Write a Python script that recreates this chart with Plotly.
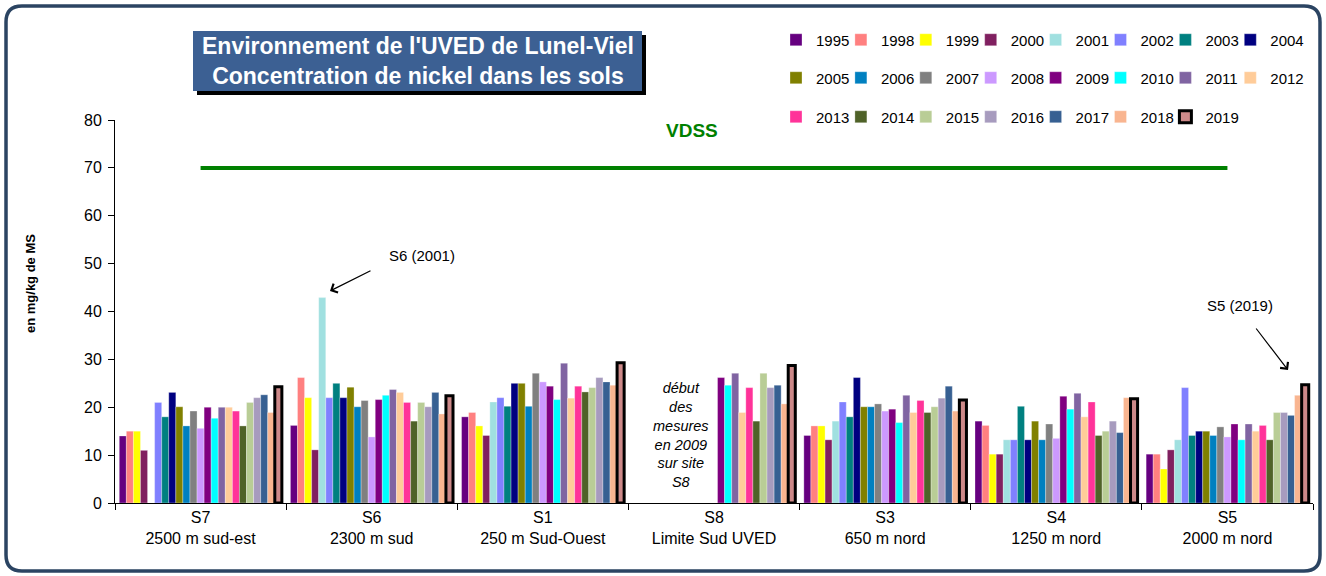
import plotly.graph_objects as go

# ---------------- data ----------------
sites = ["S7<br>2500 m sud-est", "S6<br>2300 m sud", "S1<br>250 m Sud-Ouest",
         "S8<br>Limite Sud UVED", "S3<br>650 m nord", "S4<br>1250 m nord", "S5<br>2000 m nord"]

years = ["1995", "1998", "1999", "2000", "2001", "2002", "2003", "2004",
         "2005", "2006", "2007", "2008", "2009", "2010", "2011", "2012",
         "2013", "2014", "2015", "2016", "2017", "2018", "2019"]

# values per site, in the order of `years` (mg/kg MS)
s7 = [14, 15, 15, 11, None, 21, 18, 23.1, 20.1, 16.1, 19.2, 15.6, 20, 17.7, 20, 20, 19.2, 16.1, 21, 22, 22.6, 18.9, 24.3]
s6 = [16.2, 26.2, 22, 11.1, 42.9, 22, 25, 22, 24.2, 20.1, 21.4, 13.8, 21.6, 22.5, 23.7, 23.1, 21, 17.1, 21, 20.1, 23.1, 18.6, 22.4]
s1 = [18, 18.9, 16.1, 14.1, 21.1, 22, 20.2, 25, 25, 20.2, 27.1, 25.3, 24.4, 21.6, 29.2, 21.9, 24.4, 23.2, 24.1, 26.2, 25.3, 24.6, 29.3]
s8 = [None, None, None, None, None, None, None, None, None, None, None, None,
      26.2, 24.6, 27.1, 18.9, 24.1, 17.1, 27.1, 24.1, 24.6, 20.7, 28.7]
s3 = [14.1, 16.1, 16.1, 13.2, 17.1, 21.1, 18, 26.2, 20.1, 20.1, 20.7, 19.2, 19.6, 16.8, 22.5, 18.9, 21.4, 18.9, 20.1, 21.9, 24.4, 19.2, 21.5]
s4 = [17.1, 16.2, 10.2, 10.2, 13.2, 13.2, 20.2, 13.2, 17.1, 13.2, 16.5, 13.5, 22.3, 19.6, 22.9, 18, 21.1, 14.1, 15, 17.1, 14.7, 22, 21.8]
s5 = [10.2, 10.2, 7.1, 11.1, 13.2, 24.1, 14.1, 15, 15, 14.1, 15.9, 13.8, 16.5, 13.2, 16.5, 15, 16.2, 13.2, 18.9, 18.9, 18.3, 22.5, 24.7]

vdss = [70, 70, 70, 70, 70, 70, 70]

colors = ["#660080", "#FF8080", "#FFFF00", "#802060", "#A0E0E0", "#8080FF", "#008080", "#000080",
          "#808000", "#0080C0", "#808080", "#CC99FF", "#800080", "#00FFFF", "#8064A2", "#FFCC99",
          "#FF3399", "#4F6228", "#B9CD96", "#A79BBE", "#376092", "#F9B590", "#CD8989"]

# ---------------- layout geometry (pixels) ----------------
W, H = 1326, 576
L, R, T, B = 115, 13, 120, 73
PW = W - L - R
PH = H - T - B


def px(x):
    return (x - L) / PW


def py(y):
    return (H - B - y) / PH


FONT = "Liberation Sans, Arial"
site_vals = [s7, s6, s1, s8, s3, s4, s5]

# legend grid: 8 columns x 3 rows, one single-entry legend per year
LEG_X0, LEG_DX = 776, 64.9
LEG_ROWS_Y = [40, 78, 117]

fig = go.Figure()
legend_layouts = {}
for i, yr in enumerate(years):
    vals = [sv[i] for sv in site_vals]
    lg = "legend" if i == 0 else f"legend{i + 1}"
    row, col = divmod(i, 8)
    legend_layouts[lg] = dict(
        orientation="h", xanchor="left", yanchor="middle",
        x=px(LEG_X0 + col * LEG_DX), y=py(LEG_ROWS_Y[row]),
        font=dict(family=FONT, size=15, color="black"),
        bgcolor="rgba(0,0,0,0)", itemclick=False, itemdoubleclick=False,
    )
    is_last = (yr == "2019")
    fig.add_trace(go.Bar(
        x=sites, y=vals, name=yr, legend=lg,
        marker=dict(color=colors[i],
                    line=dict(color="black" if is_last else "rgba(255,255,255,0.6)",
                              width=3 if is_last else 0.5)),
        hovertemplate="%{x}<br>" + yr + " : %{y}<extra></extra>",
    ))

fig.add_trace(go.Scatter(
    x=sites, y=vdss, mode="lines", name="VDSS", showlegend=False,
    line=dict(color="#008000", width=4), hoverinfo="skip",
))


def rounded(x0, y0, x1, y1, r):
    def P(a, b):
        return f"{px(a):.5f},{py(b):.5f}"
    return (f"M {P(x0 + r, y0)} L {P(x1 - r, y0)} Q {P(x1, y0)} {P(x1, y0 + r)} "
            f"L {P(x1, y1 - r)} Q {P(x1, y1)} {P(x1 - r, y1)} "
            f"L {P(x0 + r, y1)} Q {P(x0, y1)} {P(x0, y1 - r)} "
            f"L {P(x0, y0 + r)} Q {P(x0, y0)} {P(x0 + r, y0)} Z")


shapes = [
    dict(type="path", xref="paper", yref="paper", path=rounded(6, 6, 1320, 571, 16),
         line=dict(color="#2B4462", width=3.5), fillcolor="rgba(0,0,0,0)", layer="below"),
    dict(type="rect", xref="paper", yref="paper", x0=px(197), x1=px(646), y0=py(95), y1=py(35),
         fillcolor="black", line=dict(width=0), layer="below"),
    dict(type="rect", xref="paper", yref="paper", x0=px(193), x1=px(642), y0=py(91), y1=py(31),
         fillcolor="#3C6093", line=dict(width=0), layer="below"),
]

annotations = [
    dict(text="<b>Environnement de l'UVED de Lunel-Viel<br>Concentration de nickel dans les sols</b>",
         xref="paper", yref="paper", x=px(417.5), y=py(61), xanchor="center", yanchor="middle",
         showarrow=False, font=dict(family=FONT, size=23, color="white"), align="center"),
    dict(text="<b>VDSS</b>", xref="paper", yref="paper", x=px(692), y=py(130),
         xanchor="center", yanchor="middle", showarrow=False,
         font=dict(family=FONT, size=19, color="#008000")),
    dict(text="<b>en mg/kg de MS</b>", xref="paper", yref="paper", x=px(30), y=py(284),
         xanchor="center", yanchor="middle", textangle=-90, showarrow=False,
         font=dict(family=FONT, size=13, color="black")),
    dict(text="S6 (2001)", xref="paper", yref="paper", x=px(422), y=py(255),
         xanchor="center", yanchor="middle", showarrow=False,
         font=dict(family=FONT, size=15, color="black")),
    dict(text="", xref="paper", yref="paper", x=px(330), y=py(291), ax=42, ay=-21,
         showarrow=True, arrowhead=4, arrowsize=1.6, arrowwidth=1.2, arrowcolor="black"),
    dict(text="S5 (2019)", xref="paper", yref="paper", x=px(1240), y=py(305),
         xanchor="center", yanchor="middle", showarrow=False,
         font=dict(family=FONT, size=15, color="black")),
    dict(text="", xref="paper", yref="paper", x=px(1288), y=py(370), ax=-33, ay=-43,
         showarrow=True, arrowhead=4, arrowsize=1.6, arrowwidth=1.2, arrowcolor="black"),
    dict(text="<i>début<br>des<br>mesures<br>en 2009<br>sur site<br>S8</i>",
         xref="paper", yref="paper", x=px(681), y=py(435), xanchor="center", yanchor="middle",
         showarrow=False, align="center",
         font=dict(family=FONT, size=14.5, color="black")),
]

fig.update_layout(
    width=W, height=H,
    margin=dict(l=L, r=R, t=T, b=B, autoexpand=False),
    paper_bgcolor="white", plot_bgcolor="white",
    barmode="group", bargap=0.05, bargroupgap=0,
    font=dict(family=FONT, size=16, color="black"),
    shapes=shapes,
    annotations=annotations,
    xaxis=dict(showline=True, linecolor="black", linewidth=1, ticks="outside", ticklen=6,
               tickcolor="black", tickson="boundaries", showgrid=False,
               tickfont=dict(size=16)),
    yaxis=dict(range=[0, 80], dtick=10, showline=True, linecolor="black", linewidth=1,
               ticks="outside", ticklen=6, tickcolor="black", showgrid=False, zeroline=False,
               tickfont=dict(size=16), ticklabelstandoff=3),
    **legend_layouts,
)

fig.write_html("out.html", config={"displayModeBar": False},
               post_script="document.body.style.margin='0px';")
